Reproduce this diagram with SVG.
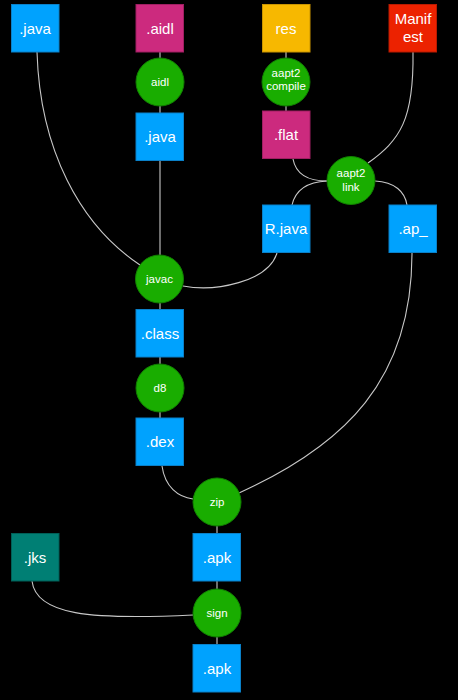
<svg xmlns="http://www.w3.org/2000/svg" width="458" height="700" viewBox="0 0 458 700">
<style>
.bg{fill:#000}
.box{stroke-width:1}
.blue{fill:#00a2fe;stroke:#0a80c8}
.pink{fill:#cc2a7e;stroke:#a01f62}
.yellow{fill:#f7b800;stroke:#c99400}
.red{fill:#ec2200;stroke:#b81a00}
.teal{fill:#007f74;stroke:#005f57}
.tool{fill:#19ad00;stroke:#118000;stroke-width:1}
.bl{font-family:"Liberation Sans",Arial,Helvetica,sans-serif;font-size:15px;fill:#fff;text-anchor:middle}
.tl{font-family:"Liberation Sans",Arial,Helvetica,sans-serif;font-size:11.5px;fill:#fff;text-anchor:middle}
#connectors path,#connectors line{fill:none;stroke:#c8c8c8;stroke-width:1.1}
</style>
<rect class="bg" x="0" y="0" width="458" height="700"/>
<g id="connectors">
<path d="M37,52 C40,150 80,225 140,265"/>
<line x1="160" y1="52" x2="160" y2="58"/>
<line x1="160" y1="106" x2="160" y2="113"/>
<line x1="160" y1="160" x2="160" y2="255"/>
<line x1="286" y1="52" x2="286" y2="58"/>
<line x1="286" y1="106" x2="286" y2="111"/>
<path d="M293,159 C296,175 308,181 327,181"/>
<path d="M327,181 C305,182 295,192 292,205"/>
<path d="M413,52 C414,120 400,140 368,163"/>
<path d="M375,181 C395,182 405,192 407,205"/>
<path d="M183,286 C215,292 268,282 277,253"/>
<line x1="160" y1="303" x2="160" y2="309"/>
<line x1="160" y1="357" x2="160" y2="364"/>
<line x1="160" y1="412" x2="160" y2="418"/>
<path d="M412,253 C412,380 345,445 239,493"/>
<path d="M162,466 C165,487 178,497 193,499"/>
<line x1="217" y1="526" x2="217" y2="533"/>
<line x1="217" y1="581" x2="217" y2="589"/>
<line x1="217" y1="637" x2="217" y2="644"/>
<path d="M32,581 C36,615 90,620 193,615"/>
</g>
<g id="java1"><rect class="box blue" x="11.5" y="4.5" width="47.5" height="47.5"/><text class="bl" x="35" y="33.5">.java</text></g>
<g id="aidl-file"><rect class="box pink" x="136" y="4.5" width="47.5" height="47.5"/><text class="bl" x="160" y="33.5">.aidl</text></g>
<g id="res"><rect class="box yellow" x="262.5" y="4.5" width="47.5" height="47.5"/><text class="bl" x="286" y="33.5">res</text></g>
<g id="manifest"><rect class="box red" x="389" y="4.5" width="47.5" height="47.5"/><text class="bl" x="413" y="24">Manif</text><text class="bl" x="413" y="42">est</text></g>
<g id="aidl-tool"><circle class="tool" cx="160" cy="82" r="24"/><text class="tl" x="160" y="86">aidl</text></g>
<g id="aapt2-compile"><circle class="tool" cx="286" cy="82" r="24"/><text class="tl" x="286" y="76.5">aapt2</text><text class="tl" x="286" y="89.5">compile</text></g>
<g id="java2"><rect class="box blue" x="136" y="113" width="47.5" height="47.5"/><text class="bl" x="160" y="142">.java</text></g>
<g id="flat"><rect class="box pink" x="262.5" y="111" width="47.5" height="47.5"/><text class="bl" x="286" y="140">.flat</text></g>
<g id="aapt2-link"><circle class="tool" cx="351" cy="180.5" r="24"/><text class="tl" x="351" y="176.5">aapt2</text><text class="tl" x="351" y="190.5">link</text></g>
<g id="rjava"><rect class="box blue" x="262.5" y="205" width="47.5" height="47.5"/><text class="bl" x="286" y="234">R.java</text></g>
<g id="ap"><rect class="box blue" x="389" y="205" width="47.5" height="47.5"/><text class="bl" x="413" y="234">.ap_</text></g>
<g id="javac"><circle class="tool" cx="159.5" cy="279" r="24"/><text class="tl" x="159.5" y="283">javac</text></g>
<g id="class"><rect class="box blue" x="136" y="309.5" width="47.5" height="47.5"/><text class="bl" x="160" y="338.5">.class</text></g>
<g id="d8"><circle class="tool" cx="160" cy="388" r="24"/><text class="tl" x="160" y="392">d8</text></g>
<g id="dex"><rect class="box blue" x="136" y="418" width="47.5" height="47.5"/><text class="bl" x="160" y="447">.dex</text></g>
<g id="zip"><circle class="tool" cx="217" cy="502" r="24"/><text class="tl" x="217" y="506">zip</text></g>
<g id="jks"><rect class="box teal" x="11.5" y="533.5" width="47.5" height="47.5"/><text class="bl" x="35" y="562.5">.jks</text></g>
<g id="apk1"><rect class="box blue" x="193" y="533.5" width="47.5" height="47.5"/><text class="bl" x="217" y="562.5">.apk</text></g>
<g id="sign"><circle class="tool" cx="217" cy="613" r="24"/><text class="tl" x="217" y="617">sign</text></g>
<g id="apk2"><rect class="box blue" x="193" y="644.5" width="47.5" height="47.5"/><text class="bl" x="217" y="673.5">.apk</text></g>
</svg>
